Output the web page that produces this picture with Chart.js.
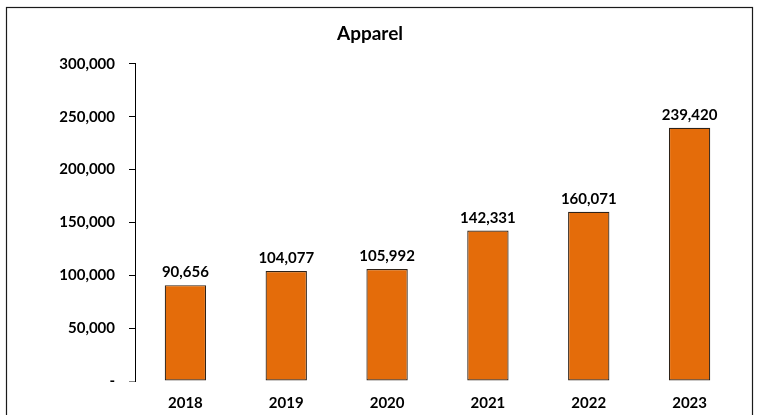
<!DOCTYPE html>
<html>
<head>
<meta charset="utf-8">
<style>
  html, body { margin: 0; padding: 0; background: #ffffff; }
  #wrap { width: 760px; height: 415px; position: relative; }
</style>
<script src="https://cdn.jsdelivr.net/npm/chart.js@4/dist/chart.umd.min.js"></script>
</head>
<body>
<div id="wrap"><canvas id="chart" width="760" height="415"></canvas></div>
<script>
// Annual apparel figures
const years = ['2018', '2019', '2020', '2021', '2022', '2023'];
const apparelValues = [90656, 104077, 105992, 142331, 160071, 239420];
const yTickValues = [0, 50000, 100000, 150000, 200000, 250000, 300000];

const FONT = 'Lato, "Liberation Sans", sans-serif';
const fmt = v => v.toLocaleString('en-US');

// Outer frame around the whole chart
const framePlugin = {
  id: 'frame',
  afterDraw(chart) {
    const ctx = chart.ctx;
    ctx.save();
    ctx.strokeStyle = '#1a1a1a';
    ctx.lineWidth = 1.2;
    ctx.strokeRect(6.5, 7.5, 746, 430);
    ctx.restore();
  }
};

// Value labels above each bar
const valueLabels = {
  id: 'valueLabels',
  afterDatasetsDraw(chart) {
    const ctx = chart.ctx;
    const meta = chart.getDatasetMeta(0);
    const data = chart.data.datasets[0].data;
    ctx.save();
    ctx.font = 'bold 15px ' + FONT;
    ctx.fillStyle = '#000000';
    ctx.textAlign = 'center';
    ctx.textBaseline = 'bottom';
    meta.data.forEach((bar, i) => {
      ctx.fillText(fmt(data[i]), bar.x, bar.y - 5);
    });
    ctx.restore();
  }
};

new Chart(document.getElementById('chart'), {
  type: 'bar',
  data: {
    labels: years,
    datasets: [{
      label: 'Apparel',
      data: apparelValues,
      backgroundColor: '#E46C0A',
      borderColor: '#2e2218',
      borderWidth: 1.2,
      borderSkipped: false,
      categoryPercentage: 1,
      barPercentage: 0.41
    }]
  },
  options: {
    responsive: false,
    animation: false,
    layout: { padding: { left: 0, right: 20, top: 0, bottom: 0 } },
    plugins: {
      legend: { display: false },
      tooltip: { enabled: false },
      title: {
        display: true,
        text: 'Apparel',
        color: '#000000',
        font: { family: FONT, size: 19, weight: 'bold' },
        padding: { top: 22, bottom: 19 }
      }
    },
    scales: {
      x: {
        grid: { display: false, drawTicks: false },
        border: { display: false },
        ticks: {
          color: '#000000',
          font: { family: FONT, size: 15, weight: 'bold' },
          padding: 13,
          maxRotation: 0
        },
        afterFit: s => { s.height = 34; }
      },
      y: {
        min: 0,
        max: 300000,
        afterBuildTicks: s => { s.ticks = yTickValues.map(v => ({ value: v })); },
        grid: {
          drawOnChartArea: false,
          drawTicks: true,
          tickLength: 6,
          color: ctx => (ctx.tick && ctx.tick.value === 0 ? '#888888' : '#000000')
        },
        border: { display: true, color: '#000000', width: 1 },
        ticks: {
          color: '#000000',
          font: { family: FONT, size: 15, weight: 'bold' },
          padding: 14,
          callback: v => (v === 0 ? '-' : fmt(v))
        },
        afterFit: s => { s.width = 135; }
      }
    }
  },
  plugins: [framePlugin, valueLabels]
});
</script>
</body>
</html>
